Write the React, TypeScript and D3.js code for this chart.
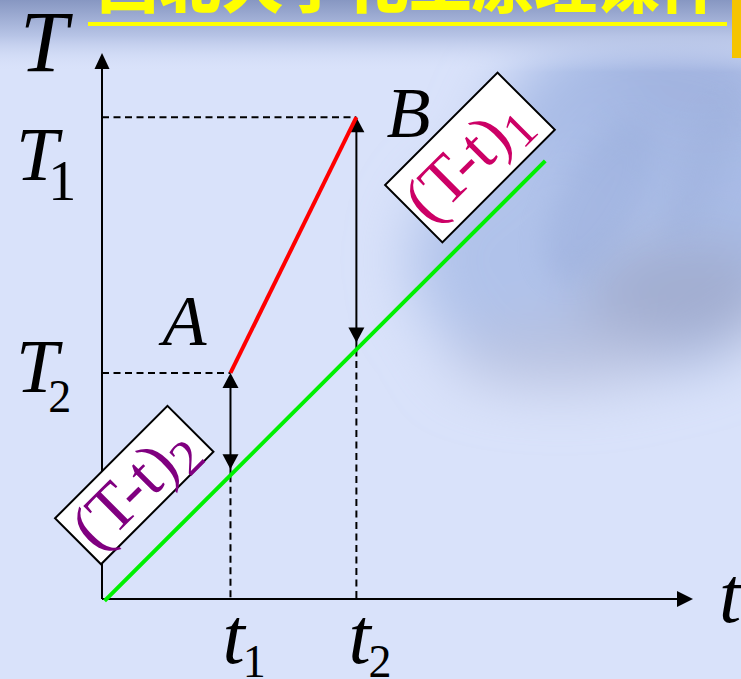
import React from "react";
import * as d3 from "d3";

const W = 741;
const H = 679;

// Axis extents (chart units)
const tMax = 46;
const TMax = 42.5;

// Characteristic times / temperatures
const tMarks = [
  { sub: "1", value: 10 },
  { sub: "2", value: 19.8 },
];
const TMarks = [
  { sub: "1", value: 37.5 },
  { sub: "2", value: 17.6 },
];

// Cold-side line t (green) and hot-side line A→B (red), as [t, T] pairs
const coldLine: [number, number][] = [
  [0.2, -0.15],
  [34.5, 34.1],
];
const hotLine: [number, number][] = [
  [10, 17.6],
  [19.8, 37.5],
];
const pointNames = ["A", "B"];

// Temperature-difference callouts: anchor in chart units
const diffNames = ["(T-t)", "(T-t)"];
const diffSubs = ["1", "2"];
const diffAnchors: [number, number][] = [
  [28.64, 34.37],
  [2.51, 8.87],
];

const titleText = "西北大学化工原理课件";

const serif = "'Liberation Serif', 'Times New Roman', serif";

export default function App() {
  const x = d3.scaleLinear().domain([0, tMax]).range([102, 693]);
  const y = d3.scaleLinear().domain([0, TMax]).range([599, 53]);
  const line = d3
    .line<[number, number]>()
    .x((d) => x(d[0]))
    .y((d) => y(d[1]));

  // cold line value at a given t
  const coldAt = (t: number) => {
    const [[t0, v0], [t1, v1]] = coldLine;
    return v0 + ((t - t0) * (v1 - v0)) / (t1 - t0);
  };

  const head = (tx: number, ty: number, dir: "up" | "down" | "right", len = 15, half = 8) => {
    if (dir === "up") return `M${tx},${ty} L${tx - half},${ty + len} L${tx + half},${ty + len} Z`;
    if (dir === "down") return `M${tx},${ty} L${tx - half},${ty - len} L${tx + half},${ty - len} Z`;
    return `M${tx},${ty} L${tx - len},${ty - half} L${tx - len},${ty + half} Z`;
  };

  const [A, B] = hotLine;
  const boxStyles = [
    { w: 159, h: 81, color: "#CC0066", tx: -76, base: 20 },
    { w: 159, h: 65, color: "#800080", tx: -74, base: 22 },
  ];

  return (
    <svg
      width={W}
      height={H}
      viewBox={`0 0 ${W} ${H}`}
      style={{ display: "block", position: "absolute", left: 0, top: 0 }}
    >
      <defs>
        <linearGradient id="topShade" x1="0" y1="0" x2="0" y2="1">
          <stop offset="0" stopColor="#8797C2" />
          <stop offset="0.5" stopColor="#B7C4E6" />
          <stop offset="1" stopColor="#D9E2FA" stopOpacity="0" />
        </linearGradient>
        <filter id="soft" x="-50%" y="-50%" width="200%" height="200%">
          <feGaussianBlur stdDeviation="30" />
        </filter>
        <filter id="soft2" x="-50%" y="-50%" width="200%" height="200%">
          <feGaussianBlur stdDeviation="14" />
        </filter>
      </defs>

      {/* backdrop */}
      <rect x={0} y={0} width={W} height={H} fill="#D9E2FA" />
      <g filter="url(#soft)">
        <ellipse cx={650} cy={190} rx={170} ry={180} fill="#A9BCE6" />
        <ellipse cx={540} cy={260} rx={130} ry={110} fill="#B0C2EA" />
        <ellipse cx={680} cy={295} rx={100} ry={55} fill="#A2ADD0" />
        <ellipse cx={560} cy={355} rx={110} ry={30} fill="#B8C1DF" />
        <ellipse cx={700} cy={80} rx={90} ry={60} fill="#A2B4E0" />
      </g>
      <g filter="url(#soft2)" opacity={0.45}>
        <ellipse cx={600} cy={200} rx={40} ry={90} fill="#98ACDA" transform="rotate(30 600 200)" />
        <ellipse cx={700} cy={170} rx={25} ry={80} fill="#9EB0DC" transform="rotate(20 700 170)" />
      </g>
      <rect x={0} y={0} width={W} height={72} fill="url(#topShade)" />

      {/* title strip */}
      <text
        x={96}
        y={8}
        fontFamily="'Noto Sans CJK SC', sans-serif"
        fontWeight={900}
        fontSize={61}
        fill="#FFFF00"
        textLength={626}
        lengthAdjust="spacingAndGlyphs"
      >
        {titleText}
      </text>
      <rect x={88} y={22} width={639} height={4} fill="#FFFF00" />
      <rect x={732} y={0} width={9} height={58} fill="#F5C400" />

      {/* guide dashes */}
      <g stroke="#000" strokeWidth={2} strokeDasharray="7 4.5" fill="none">
        <line x1={x(0)} y1={y(B[1])} x2={x(B[0])} y2={y(B[1])} />
        <line x1={x(0)} y1={y(A[1])} x2={x(A[0])} y2={y(A[1])} />
        <line x1={x(A[0])} y1={y(coldAt(A[0]))} x2={x(A[0])} y2={y(0)} />
        <line x1={x(B[0])} y1={y(coldAt(B[0]))} x2={x(B[0])} y2={y(0)} />
      </g>

      {/* axes */}
      <g stroke="#000" strokeWidth={2}>
        <line x1={x(0)} y1={y(0)} x2={x(0)} y2={y(TMax) + 14} />
        <line x1={x(0)} y1={y(0)} x2={x(tMax) - 14} y2={y(0)} />
      </g>
      <path d={head(x(0), y(TMax), "up", 16, 7.5)} fill="#000" />
      <path d={head(x(tMax), y(0), "right", 16, 8)} fill="#000" />

      {/* temperature difference arrows */}
      <g stroke="#000" strokeWidth={2}>
        <line x1={x(A[0])} y1={y(A[1]) + 10} x2={x(A[0])} y2={y(coldAt(A[0]))} />
        <line x1={x(B[0])} y1={y(B[1]) + 10} x2={x(B[0])} y2={y(coldAt(B[0]))} />
      </g>
      <path d={head(x(A[0]), y(A[1]), "up", 15, 8)} fill="#000" />
      <path d={head(x(A[0]), y(coldAt(A[0])) - 6, "down", 15, 8)} fill="#000" />
      <path d={head(x(B[0]), y(B[1]), "up", 15, 8)} fill="#000" />
      <path d={head(x(B[0]), y(coldAt(B[0])) - 7, "down", 15, 8)} fill="#000" />

      {/* lines */}
      <path d={line(coldLine) || ""} stroke="#00F000" strokeWidth={4} fill="none" />
      <path d={line(hotLine) || ""} stroke="#FF0000" strokeWidth={4} fill="none" />

      {/* callout boxes */}
      {diffAnchors.map((p, i) => {
        const s = boxStyles[i];
        return (
          <g key={i} transform={`translate(${x(p[0])},${y(p[1])}) rotate(-45)`}>
            <rect x={-s.w / 2} y={-s.h / 2} width={s.w} height={s.h} fill="#fff" stroke="#000" strokeWidth={2} />
            <text x={s.tx} y={s.base} fontFamily={serif} fontSize={66} fill={s.color}>
              {diffNames[i]}
              <tspan fontSize={50} dy={12}>
                {diffSubs[i]}
              </tspan>
            </text>
          </g>
        );
      })}

      {/* axis titles */}
      <text x={20} y={71} fontFamily={serif} fontStyle="italic" fontSize={86} fill="#000">
        T
      </text>
      <text x={719} y={622} fontFamily={serif} fontStyle="italic" fontSize={80} fill="#000">
        t
      </text>

      {/* T marks */}
      {TMarks.map((m, i) => (
        <text
          key={m.sub}
          x={16}
          y={i === 0 ? 180 : 392}
          fontFamily={serif}
          fontSize={76}
          fill="#000"
        >
          <tspan fontStyle="italic">T</tspan>
          <tspan fontSize={i === 0 ? 56 : 46} dy={20} dx={-10}>
            {m.sub}
          </tspan>
        </text>
      ))}

      {/* t marks */}
      {tMarks.map((m) => (
        <text key={m.sub} x={x(m.value) - 8} y={663} fontFamily={serif} fontSize={80} fill="#000">
          <tspan fontStyle="italic">t</tspan>
          <tspan fontSize={46} dy={14} dx={-2}>
            {m.sub}
          </tspan>
        </text>
      ))}

      {/* point names */}
      <text x={x(A[0]) - 68} y={y(A[1]) - 28} fontFamily={serif} fontStyle="italic" fontSize={72} fill="#000">
        {pointNames[0]}
      </text>
      <text x={x(B[0]) + 30} y={y(B[1]) + 20} fontFamily={serif} fontStyle="italic" fontSize={72} fill="#000">
        {pointNames[1]}
      </text>
    </svg>
  );
}
